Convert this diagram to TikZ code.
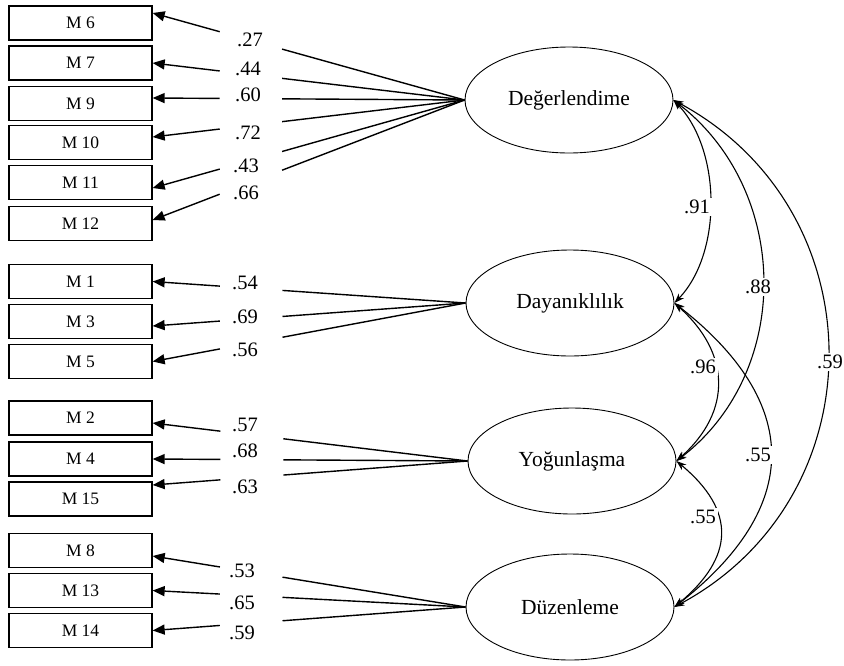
\documentclass[tikz,border=0pt]{standalone}
\usepackage{fontspec}
\setmainfont{Liberation Serif}
\usetikzlibrary{arrows.meta,calc,shapes.geometric}
\newcommand\loadpath[5]{%
  \path (#1) -- (#2) coordinate[pos=0.585] (ga) coordinate[pos=0.785] (gb);
  \draw[ld] (#1) -- (ga);
  \draw[ldarr] (gb) -- (#2);
  \node[wt] (#3) at (#4) {#5};
}
\begin{document}
\begin{tikzpicture}[x=1pt,y=-1pt,
  obs/.style={draw, line width=1.3pt, minimum width=143pt, minimum height=34pt, inner sep=0pt, font=\fontsize{17.5}{20}\selectfont},
  lat/.style={draw, ellipse, line width=0.9pt, minimum width=208pt, minimum height=106pt, inner sep=0pt, font=\fontsize{21.5}{25}\selectfont},
  ld/.style={line width=1.4pt},
  ldarr/.style={line width=1.4pt, -{Triangle[length=12pt,width=10pt]}},
  cov/.style={line width=1.1pt, {Stealth[length=10pt,width=7pt]}-{Stealth[length=10pt,width=7pt]}},
  wt/.style={font=\fontsize{20.5}{24}\selectfont, inner sep=1pt},
  cwt/.style={wt, fill=white, inner sep=2pt},
]
\useasboundingbox (0,0) rectangle (844,665);

% observed variables
\node[obs] (M6)  at (80.5,23)    {M 6};
\node[obs] (M7)  at (80.5,63)    {M 7};
\node[obs] (M9)  at (80.5,103.5) {M 9};
\node[obs] (M10) at (80.5,142.5) {M 10};
\node[obs] (M11) at (80.5,182.5) {M 11};
\node[obs] (M12) at (80.5,223.5) {M 12};
\node[obs] (M1)  at (80.5,281.5) {M 1};
\node[obs] (M3)  at (80.5,321.5) {M 3};
\node[obs] (M5)  at (80.5,361.5) {M 5};
\node[obs] (M2)  at (80.5,418)   {M 2};
\node[obs] (M4)  at (80.5,459)   {M 4};
\node[obs] (M15) at (80.5,499)   {M 15};
\node[obs] (M8)  at (80.5,550.5) {M 8};
\node[obs] (M13) at (80.5,590.5) {M 13};
\node[obs] (M14) at (80.5,630.5) {M 14};

% latent variables
\node[lat] (F1) at (569,100) {Değerlendime};
\node[lat] (F2) at (570,303) {Dayanıklılık};
\node[lat] (F3) at (572,461) {Yoğunlaşma};
\node[lat] (F4) at (570,607) {Düzenleme};

% loadings
\loadpath{F1.west}{[yshift=10pt]M6.east}{l1}{250,40}{.27}
\loadpath{F1.west}{M7.east}{l2}{248,69}{.44}
\loadpath{F1.west}{[yshift=5.5pt]M9.east}{l3}{248,95}{.60}
\loadpath{F1.west}{[yshift=5.5pt]M10.east}{l4}{248,133}{.72}
\loadpath{F1.west}{[yshift=-5.5pt]M11.east}{l5}{246,166}{.43}
\loadpath{F1.west}{[yshift=3.5pt]M12.east}{l6}{246,193}{.66}

\loadpath{F2.west}{M1.east}{l7}{245,283}{.54}
\loadpath{F2.west}{[yshift=-4.5pt]M3.east}{l8}{245,317}{.69}
\loadpath{F2.west}{M5.east}{l9}{245,350}{.56}

\loadpath{F3.west}{[yshift=-5pt]M2.east}{l10}{245,425}{.57}
\loadpath{F3.west}{M4.east}{l11}{245,451}{.68}
\loadpath{F3.west}{[yshift=14pt]M15.east}{l12}{245,487}{.63}

\loadpath{F4.west}{[yshift=-5.5pt]M8.east}{l13}{242,571}{.53}
\loadpath{F4.west}{M13.east}{l14}{242,603}{.65}
\loadpath{F4.west}{M14.east}{l15}{242,633}{.59}

% covariances
\draw[cov] (F1.east) .. controls +(48,50) and +(48,-50) .. (F2.east);
\draw[cov] (F1.east) .. controls +(117,90) and +(117,-90) .. (F3.east);
\draw[cov] (F1.east) .. controls +(205,110) and +(205,-110) .. (F4.east);
\draw[cov] (F2.east) .. controls +(56,50) and +(56,-50) .. (F3.east);
\draw[cov] (F2.east) .. controls +(128,100) and +(128,-100) .. (F4.east);
\draw[cov] (F3.east) .. controls +(60,50) and +(60,-50) .. (F4.east);

\node[cwt] (c1) at (697,207) {.91};
\node[cwt] (c2) at (758,287) {.88};
\node[cwt] (c3) at (830,362) {.59};
\node[cwt] (c4) at (703,367) {.96};
\node[cwt] (c5) at (758,455) {.55};
\node[cwt] (c6) at (703,517) {.55};
\end{tikzpicture}
\end{document}
